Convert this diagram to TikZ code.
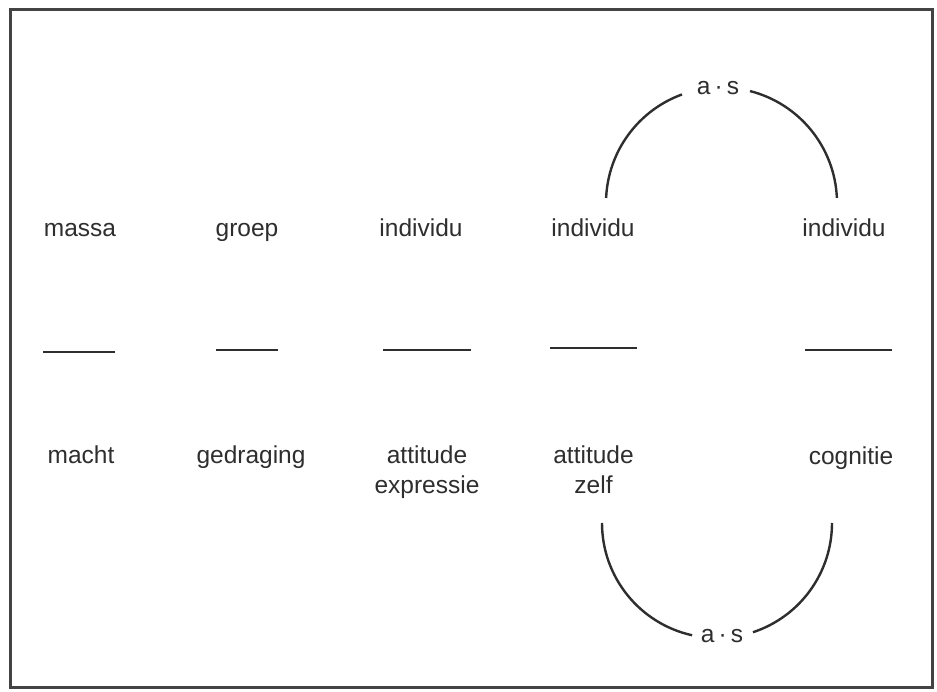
\documentclass[tikz,border=0pt]{standalone}
\usepackage{fontspec}
\setmainfont{Liberation Sans}
\definecolor{ink}{HTML}{2E2E2E}
\begin{document}
\begin{tikzpicture}[x=1pt,y=1pt,
  lbl/.style={inner sep=0pt,anchor=base,text=ink,font=\fontsize{24.5}{30}\selectfont,align=center},
  rule/.style={draw=ink,line width=2.8pt},
  bow/.style={draw=ink,line width=2.4pt},
  frame/.style={draw=ink!90,line width=3pt}]
\useasboundingbox (0,0) rectangle (937,692);
\fill[white] (0,0) rectangle (937,692);
\draw[frame] (10,4) rectangle (932,682);
% top row
\node[lbl] (massa) at (80,455) {massa};
\node[lbl] (groep) at (247,455) {groep};
\node[lbl] (ind3) at (421,455) {individu};
\node[lbl] (ind4) at (593,455) {individu};
\node[lbl] (ind5) at (844,455) {individu};
% rules
\coordinate (r1a) at (43,340);  \coordinate (r1b) at (115,340);
\coordinate (r2a) at (216,342); \coordinate (r2b) at (278,342);
\coordinate (r3a) at (383,342); \coordinate (r3b) at (471,342);
\coordinate (r4a) at (550,344); \coordinate (r4b) at (637,344);
\coordinate (r5a) at (805,342); \coordinate (r5b) at (892,342);
\draw[rule] (r1a) -- (r1b);
\draw[rule] (r2a) -- (r2b);
\draw[rule] (r3a) -- (r3b);
\draw[rule] (r4a) -- (r4b);
\draw[rule] (r5a) -- (r5b);
% bottom row
\node[lbl] (macht) at (81,228) {macht};
\node[lbl] (gedr) at (251,228) {gedraging};
\node[lbl] (att3) at (427,198) {attitude\\expressie};
\node[lbl] (att4) at (593.5,198) {attitude\\zelf};
\node[lbl] (cogn) at (851,227) {cognitie};
% arcs
\node[lbl] (astop) at (718,597) {a\,·\,s};
\node[lbl] (asbot) at (722,49) {a\,·\,s};
\coordinate (ct) at (721.5,489);
\coordinate (cb) at (717,169);
\draw[bow] ([shift={(177.5:115.5)}]ct) arc[start angle=177.5,end angle=110,radius=115.5];
\draw[bow] ([shift={(75.7:115.5)}]ct) arc[start angle=75.7,end angle=2.5,radius=115.5];
\draw[bow] ([shift={(180:115)}]cb) arc[start angle=180,end angle=257.5,radius=115];
\draw[bow] ([shift={(288.2:115)}]cb) arc[start angle=288.2,end angle=360,radius=115];
\end{tikzpicture}
\end{document}
